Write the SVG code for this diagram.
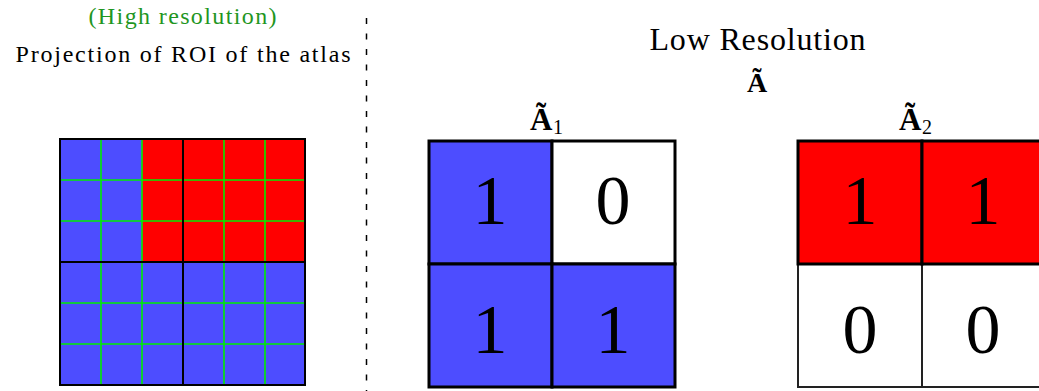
<svg xmlns="http://www.w3.org/2000/svg" width="1039" height="391" viewBox="0 0 1039 391">
  <style>
    text { font-family: "Liberation Serif", "Times New Roman", serif; fill: #000; }
    .blue { fill: #4d4dff; }
    .red { fill: #ff0000; }
    .white { fill: #ffffff; }
    .green { stroke: #00ee00; stroke-width: 1.6; fill: none; }
    .thin { stroke: #000; stroke-width: 2; fill: none; }
    .thick { stroke: #000; stroke-width: 3; }
    .digit { font-size: 70px; text-anchor: middle; }
    .bold { font-weight: bold; }
  </style>
  <rect width="1039" height="391" fill="#ffffff"/>

  <g id="title-high">
    <text x="182.5" y="24" font-size="24" text-anchor="middle" style="fill:#1f961f" textLength="188" lengthAdjust="spacing">(High resolution)</text>
    <text x="183" y="62" font-size="24" text-anchor="middle" textLength="335" lengthAdjust="spacing">Projection of ROI of the atlas</text>
  </g>

  <g id="divider">
    <line x1="366.5" y1="18" x2="366.5" y2="391" stroke="#000" stroke-width="1.5" stroke-dasharray="6 9.5"/>
  </g>

  <g id="high-res-grid">
    <rect class="blue" x="60" y="139" width="245" height="246"/>
    <rect class="red" x="142" y="139" width="163" height="123"/>
    <path class="green" d="M101 139V385M142 139V385M224 139V385M265 139V385M60 180H305M60 221H305M60 303H305M60 344H305"/>
    <rect class="thin" x="60" y="139" width="245" height="246"/>
    <path class="thin" d="M183 139V385M60 262H305"/>
  </g>

  <g id="title-low">
    <text x="757.5" y="50" font-size="32" text-anchor="middle" textLength="216" lengthAdjust="spacing">Low Resolution</text>
    <text class="bold" x="757" y="92" font-size="28" text-anchor="middle">Ã</text>
  </g>

  <g id="A1">
    <text class="bold" x="530" y="130" font-size="31">Ã</text>
    <text x="553" y="134" font-size="20">1</text>
    <rect class="blue thick" x="429" y="141" width="123" height="123"/>
    <rect class="white thick" x="552" y="141" width="123" height="123"/>
    <rect class="blue thick" x="429" y="264" width="123" height="123"/>
    <rect class="blue thick" x="552" y="264" width="123" height="123"/>
    <text class="digit" x="490" y="224">1</text>
    <text class="digit" x="613" y="224">0</text>
    <text class="digit" x="490" y="353">1</text>
    <text class="digit" x="613" y="353">1</text>
  </g>

  <g id="A2">
    <text class="bold" x="899" y="130" font-size="31">Ã</text>
    <text x="922" y="134" font-size="20">2</text>
    <rect class="white" x="798" y="264" width="124" height="123" stroke="#222" stroke-width="2"/>
    <rect class="white" x="922" y="264" width="124" height="123" stroke="#222" stroke-width="2"/>
    <rect class="red thick" x="798" y="141" width="124" height="123"/>
    <rect class="red thick" x="922" y="141" width="124" height="123"/>
    <text class="digit" x="860" y="224">1</text>
    <text class="digit" x="983" y="224">1</text>
    <text class="digit" x="860" y="353">0</text>
    <text class="digit" x="983" y="353">0</text>
  </g>
</svg>
